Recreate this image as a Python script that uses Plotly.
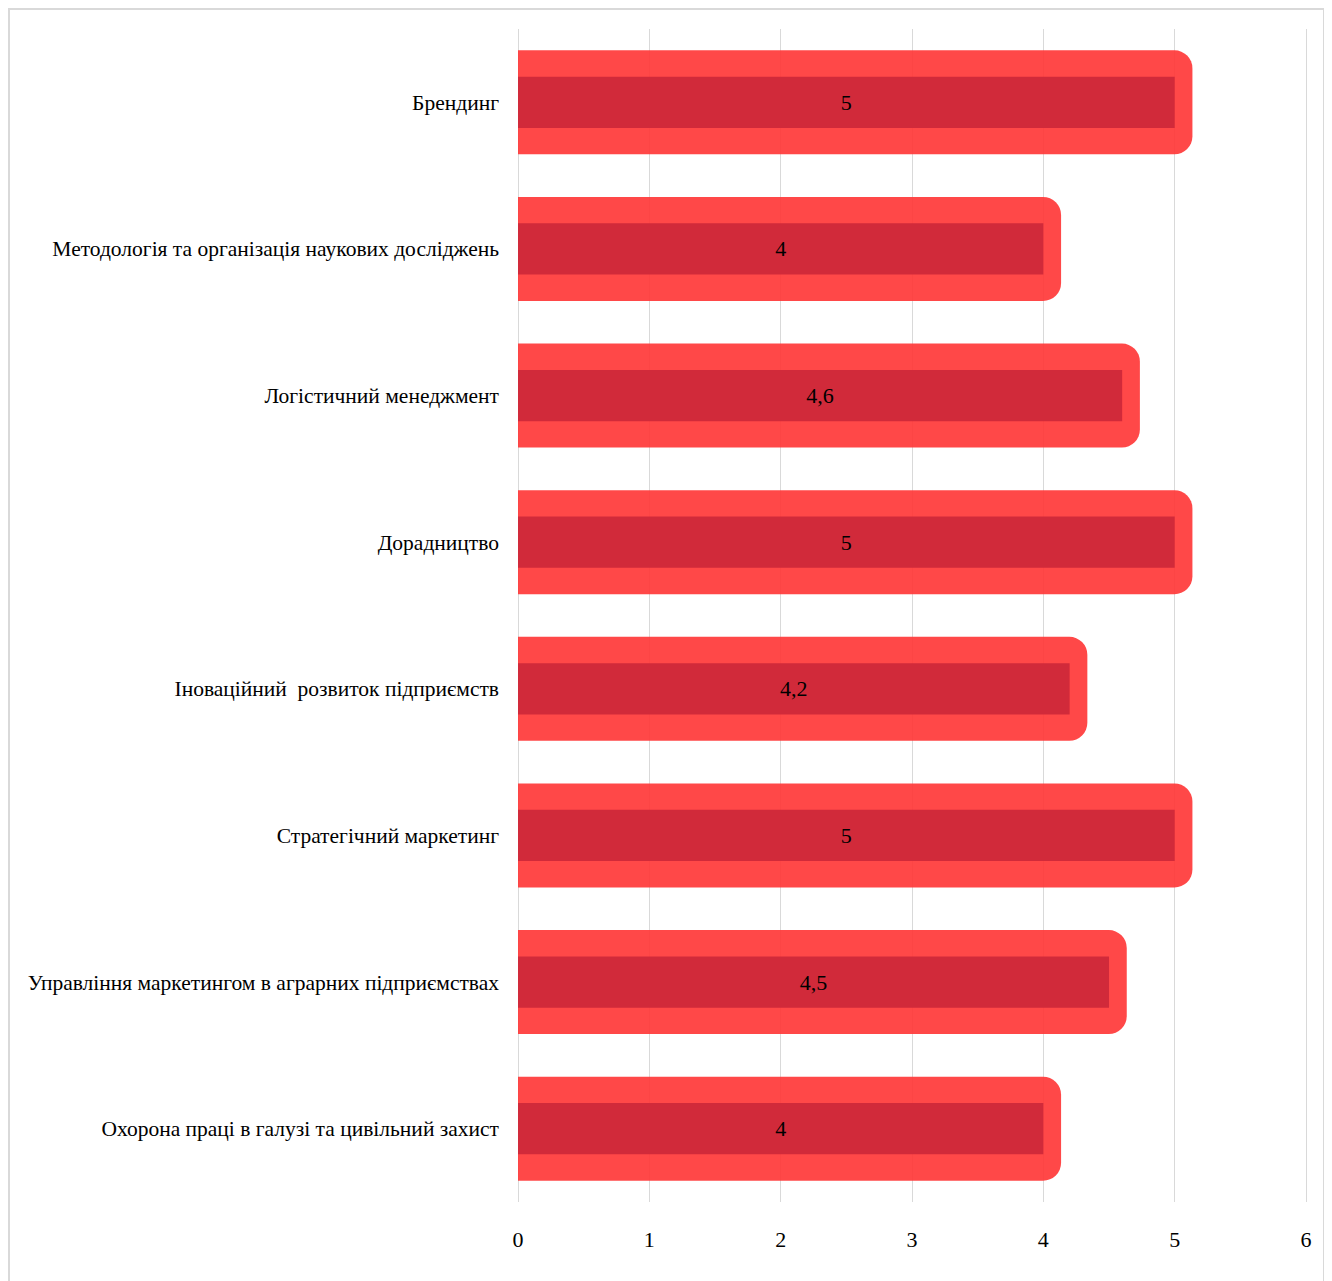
import plotly.graph_objects as go

categories = [
    "Брендинг",
    "Методологія та організація наукових досліджень",
    "Логістичний менеджмент",
    "Дорадництво",
    "Іноваційний  розвиток підприємств",
    "Стратегічний маркетинг",
    "Управління маркетингом в аграрних підприємствах",
    "Охорона праці в галузі та цивільний захист",
]
values = [5, 4, 4.6, 5, 4.2, 5, 4.5, 4]
x_ticks = [0, 1, 2, 3, 4, 5, 6]

OUTER_PAD = 0.135
labels = [f"{v:g}".replace(".", ",") for v in values]
outer_vals = [v + OUTER_PAD for v in values]

FONT = "Liberation Serif, Times New Roman, serif"

W, H = 1324, 1273
L, T, PW, PH = 510, 21, 790, 1173
X_MAX = 6.015

fig = go.Figure()
fig.add_trace(go.Bar(
    y=categories, x=outer_vals, orientation="h", width=0.71,
    marker=dict(color="rgba(255,52,52,0.9)", line=dict(width=0), cornerradius=18),
    hoverinfo="skip", showlegend=False,
))
fig.add_trace(go.Bar(
    y=categories, x=values, orientation="h", width=0.35,
    marker=dict(color="#D12A3A", line=dict(width=0)),
    text=labels, textposition="inside", insidetextanchor="middle",
    textangle=0, textfont=dict(family=FONT, size=22, color="black"),
    showlegend=False,
))

fig.update_layout(
    width=W, height=H,
    barmode="overlay",
    paper_bgcolor="white", plot_bgcolor="white",
    margin=dict(l=L, r=W - L - PW, t=T, b=H - T - PH, autoexpand=False),
    font=dict(family=FONT, size=22, color="black"),
    uniformtext=dict(mode=False),
)
fig.update_xaxes(
    range=[0, X_MAX], tickvals=x_ticks, ticktext=[str(t) for t in x_ticks],
    showgrid=True, gridcolor="#d9d9d9", gridwidth=1,
    zeroline=True, zerolinecolor="#d9d9d9", zerolinewidth=1,
    showline=False, ticks="", ticklabelstandoff=22, automargin=False,
    tickfont=dict(family=FONT, size=22, color="black"),
)
fig.update_yaxes(
    categoryorder="array", categoryarray=categories, autorange="reversed",
    showgrid=False, showline=False, ticks="", ticklabelstandoff=18, automargin=False,
    tickfont=dict(family=FONT, size=21.5, color="black"),
)
# outer frame
fig.add_shape(type="rect", xref="paper", yref="paper",
              x0=(1 - L) / PW, x1=(1316 - L) / PW,
              y0=-(H + 20 - T - PH) / PH, y1=1 + (T - 1) / PH,
              line=dict(color="#d9d9d9", width=2), fillcolor="rgba(0,0,0,0)",
              layer="below")

fig.write_html("out.html")
